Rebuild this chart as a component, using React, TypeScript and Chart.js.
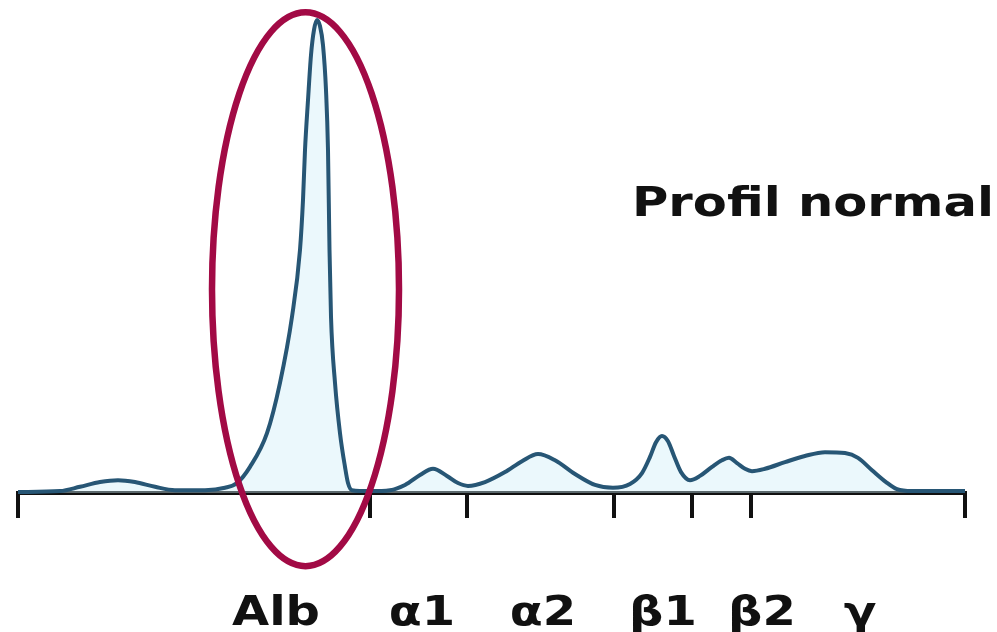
import React, { useEffect, useRef } from 'react';
import { Chart, registerables } from 'chart.js';

Chart.register(...registerables);

// Migration distance (arbitrary units) and densitometric intensity (% of albumin peak)
const MIGRATION = [
  0, 42, 62, 82, 100, 117, 137, 157, 187, 207, 219, 232, 249, 262, 274, 282, 285, 287, 290, 293, 296, 299,
  302, 305, 308, 310, 311.5, 313, 317, 322, 327, 330, 334, 352, 372, 387, 402, 415, 429, 440, 450, 467,
  487, 504, 520, 537, 557, 577, 595, 612, 624, 632, 638, 644, 650, 656, 663, 672, 682, 694, 704, 711,
  719, 727, 734, 747, 767, 787, 807, 827, 840, 854, 868, 879, 894, 947,
];
const DENSITY = [
  0.2, 0.4, 1.3, 2.3, 2.7, 2.3, 1.3, 0.6, 0.6, 1.1, 2.1, 5.5, 12.6, 23.2, 37.1, 51.2, 61.7, 72.2, 82.7, 92.2, 97.5, 99.6,
  98.3, 94.3, 84.8, 72.2, 51.2, 37.1, 23.2, 12.6, 5.5, 2.1, 0.6, 0.4, 0.6, 1.7, 3.8, 5.1, 3.6, 2.1, 1.5, 2.3,
  4.4, 6.7, 8.2, 6.9, 4.0, 1.7, 1.1, 1.9, 4.2, 7.6, 10.7, 12.0, 10.9, 7.8, 4.4, 2.7, 3.6, 5.5, 6.9, 7.4,
  6.3, 5.1, 4.6, 5.1, 6.5, 7.8, 8.6, 8.4, 7.4, 4.8, 2.3, 0.8, 0.4, 0.4,
];

// Fraction boundaries (tick marks) and fraction labels
const FRACTION_BOUNDS = [0, 352, 449, 596, 674, 733, 947];
const FRACTION_LABELS = ['Alb', 'α1', 'α2', 'β1', 'β2', 'γ'];
const FRACTION_LABEL_POS = [258, 404, 525, 645, 744, 842];

// Highlight ellipse around albumin (centre and radii in data units)
const HIGHLIGHT_CENTER = [287.5, 42.9];
const HIGHLIGHT_RADII = [93.5, 58.3];

const TITLE = 'Profil normal';
const TITLE_POS = [614, 58.3];

const X_MIN = 0;
const X_MAX = 947;
const Y_MIN = 0;
const Y_MAX = 100;

const overlayPlugin = {
  id: 'overlay',
  afterDraw(chart: any) {
    const { ctx, scales } = chart;
    const x = scales.x;
    const y = scales.y;
    ctx.save();
    // labels
    ctx.fillStyle = '#111111';
    ctx.font = 'bold 40px "DejaVu Sans"';
    ctx.textBaseline = 'alphabetic';
    ctx.textAlign = 'center';
    const labelBaseline = chart.chartArea.bottom + 132;
    FRACTION_LABELS.forEach((t, i) => {
      const px = x.getPixelForValue(FRACTION_LABEL_POS[i]);
      ctx.save();
      ctx.translate(px, labelBaseline);
      ctx.scale(1.2, 1);
      ctx.fillText(t, 0, 0);
      ctx.restore();
    });
    // title
    ctx.textAlign = 'left';
    ctx.save();
    ctx.translate(x.getPixelForValue(TITLE_POS[0]), y.getPixelForValue(TITLE_POS[1]));
    ctx.scale(1.24, 1);
    ctx.fillText(TITLE, 0, 0);
    ctx.restore();
    // ellipse
    const cx = x.getPixelForValue(HIGHLIGHT_CENTER[0]);
    const cy = y.getPixelForValue(HIGHLIGHT_CENTER[1]);
    const rx = x.getPixelForValue(HIGHLIGHT_CENTER[0] + HIGHLIGHT_RADII[0]) - cx;
    const ry = cy - y.getPixelForValue(HIGHLIGHT_CENTER[1] + HIGHLIGHT_RADII[1]);
    ctx.beginPath();
    ctx.ellipse(cx, cy, rx, ry, 0, 0, Math.PI * 2);
    ctx.strokeStyle = '#a20a45';
    ctx.lineWidth = 6.5;
    ctx.stroke();
    ctx.restore();
  },
};

export default function App() {
  const canvasRef = useRef<HTMLCanvasElement | null>(null);

  useEffect(() => {
    document.body.style.margin = '0';
    const canvas = canvasRef.current;
    if (!canvas) return;
    const chart = new Chart(canvas, {
      type: 'line',
      data: {
        datasets: [
          {
            data: MIGRATION.map((m, i) => ({ x: m, y: DENSITY[i] })),
            borderColor: '#275675',
            borderWidth: 4,
            backgroundColor: 'rgba(205, 238, 248, 0.4)',
            fill: 'origin',
            pointRadius: 0,
            cubicInterpolationMode: 'monotone',
            clip: false as any,
          },
        ],
      },
      options: {
        responsive: false,
        animation: false,
        events: [],
        layout: { padding: { left: 18, right: 32, top: 18, bottom: 114 } },
        plugins: {
          legend: { display: false },
          tooltip: { enabled: false },
          title: { display: false },
        },
        scales: {
          x: {
            type: 'linear',
            min: X_MIN,
            max: X_MAX,
            afterBuildTicks: (axis: any) => {
              axis.ticks = FRACTION_BOUNDS.map((v) => ({ value: v }));
            },
            ticks: { display: false },
            grid: {
              drawOnChartArea: false,
              drawTicks: true,
              tickLength: 25,
              lineWidth: 4,
              color: '#111111',
            },
            border: { display: true, color: '#111111', width: 4 },
          },
          y: { type: 'linear', display: false, min: Y_MIN, max: Y_MAX },
        },
      },
      plugins: [overlayPlugin],
    });
    return () => chart.destroy();
  }, []);

  return (
    <div style={{ width: 997, height: 632, background: '#ffffff' }}>
      <canvas ref={canvasRef} width={997} height={632} style={{ display: 'block' }} />
    </div>
  );
}
